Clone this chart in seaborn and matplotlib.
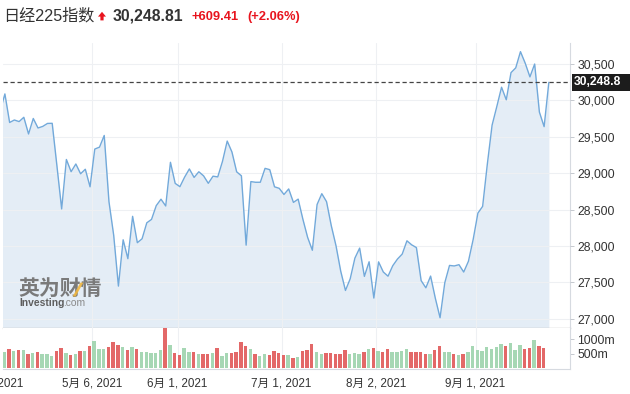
import numpy as np
import pandas as pd
import matplotlib
matplotlib.use("Agg")
import matplotlib.pyplot as plt
import matplotlib.ticker as mticker
from matplotlib import transforms
from matplotlib.patches import Polygon, Rectangle
import seaborn as sns

# ---------------- data ----------------
holidays = ['2021-04-29', '2021-05-03', '2021-05-04', '2021-05-05', '2021-07-22',
            '2021-07-23', '2021-08-09', '2021-09-20', '2021-09-23']
trade_dates = [d for d in pd.bdate_range('2021-04-01', '2021-09-24')
               if d.strftime('%Y-%m-%d') not in holidays]

# closes from 2021-04-02 to 2021-09-24
close = [
    29854.00, 30089.25, 29696.63, 29730.79, 29708.98, 29768.06, 29538.73, 29751.61,
    29620.99, 29642.69, 29683.37, 29685.37, 29100.38, 28508.55, 29188.17, 29020.63,
    29126.23, 28991.89, 29053.97, 28812.63,
    29331.37, 29357.82, 29518.34, 28608.59, 28147.51, 27448.01, 28084.47, 27824.83,
    28406.84, 28044.45, 28098.25, 28317.83, 28364.61, 28553.98, 28642.19, 28549.01,
    29149.41, 28860.08,
    28814.34, 28946.14, 29058.11, 28941.52, 29019.24, 28963.56, 28860.80, 28958.56,
    28948.73, 29161.80, 29441.30, 29291.01, 29018.33, 28964.08, 28010.93, 28884.13,
    28874.89, 28875.23, 29066.18, 29048.02, 28812.61, 28791.53,
    28707.04, 28783.28, 28598.19, 28643.21, 28366.95, 28118.03, 27940.42, 28569.02,
    28718.24, 28608.49, 28279.09, 28003.08, 27652.74, 27388.16, 27548.00, 27833.29,
    27970.22, 27581.66, 27782.42, 27283.59,
    27781.02, 27641.83, 27584.08, 27728.12, 27820.04, 27888.15, 28070.51, 28015.02,
    27977.15, 27523.19, 27424.47, 27585.91, 27281.17, 27013.25, 27494.24, 27732.10,
    27724.80, 27742.29, 27641.14, 27789.29, 28089.54,
    28451.02, 28543.51, 29128.11, 29659.89, 29916.14, 30181.21, 30008.19, 30381.84,
    30447.37, 30670.10, 30511.71, 30323.34, 30500.05, 29839.71, 29639.40, 30248.81,
]

# volume (millions) from 2021-04-06 to 2021-09-24, R = red bar, G = green bar
vol_m = [
    549, 663, 594, 628, 628, 490, 513, 559, 490, 490,
    420, 594, 698, 513, 443, 490, 594, 594, 767, 941,
    663, 663, 733, 906, 802, 733, 628, 733, 663, 549,
    549, 524, 524, 618, 1382, 791, 513, 443, 687, 549,
    549, 478, 478, 478, 513, 687, 408, 513, 513, 549,
    897, 758, 652, 478, 408, 478, 443, 582, 513, 443,
    443, 340, 374, 582, 617, 830, 549, 478, 513, 513,
    478, 478, 617, 478, 513, 478, 549, 652, 687, 582,
    549, 652, 549, 549, 582, 652, 549, 549, 549, 478,
    478, 617, 758, 549, 549, 478, 443, 478, 549, 758,
    617, 582, 722, 652, 722, 826, 758, 862, 617, 791,
    652, 687, 965, 758, 687,
]
vol_dir = list(
    "GRGRGRGRGG" "GRRGRGRGRG" "GGRRRGRGRG" "GGGGRGRRGG" "RGRRGRGGRR"
    "RRGRGGRRRR" "GRGRRRGGRR" "RRRGGGRGRG" "RRGGGGRRRR" "GRRGGRGRGG"
    "GGGGGGRGGG" "RRGRR"
)

tick_dates = ['2021-04-01', '2021-05-06', '2021-06-01', '2021-07-01', '2021-08-02', '2021-09-01']
tick_labels = ['4月 1, 2021', '5月 6, 2021', '6月 1, 2021', '7月 1, 2021', '8月 2, 2021', '9月 1, 2021']
price_ticks = [27000, 27500, 28000, 28500, 29000, 29500, 30000, 30500]
vol_ticks = [500, 1000]
vol_tick_labels = ['500m', '1000m']

index_name = '日经225指数'
last_close = 30248.81
change = 609.41
change_pct = 2.06

# ---------------- style ----------------
sns.set_style("white")
plt.rcParams['font.family'] = ['Liberation Sans', 'Noto Sans CJK SC', 'DejaVu Sans']
LINE_C = '#72a9da'
FILL_C = '#e4edf6'
RED_C = '#e36868'
GREEN_C = '#a6d7b4'
TXT_C = '#333333'
UP_C = '#e8141e'

W, H, DPI = 630, 394, 100
fig = plt.figure(figsize=(W / DPI, H / DPI), dpi=DPI)
fig.patch.set_facecolor('white')

L, R = 3.3, 569.5
T1, B1, B2 = 43.0, 327.5, 368.5


def fx(px):
    return px / W


def fy(py):
    return 1 - py / H


ax = fig.add_axes([fx(L), fy(B1), (R - L) / W, (B1 - T1) / H])
axv = fig.add_axes([fx(L), fy(B2), (R - L) / W, (B2 - B1) / H])

# position of trading day k (Apr 5 -> 0)
date_pos = {d.strftime('%Y-%m-%d'): k - 2 for k, d in enumerate(trade_dates)}
x_line = np.array([date_pos[d.strftime('%Y-%m-%d')] for d in trade_dates[1:]], dtype=float)
x_vol = np.array([date_pos[d.strftime('%Y-%m-%d')] for d in trade_dates[3:]], dtype=float) - 1.12
tick_pos = [date_pos[d] - 0.5 for d in tick_dates]

X0, DX = 4.9, 4.73
xlim = ((L - X0) / DX, (R - X0) / DX)

# ---------------- price panel ----------------
ax.fill_between(x_line, close, 26000, color=FILL_C, lw=0, zorder=1)
sns.lineplot(x=x_line, y=close, ax=ax, color=LINE_C, linewidth=1.0, estimator=None,
             sort=False, zorder=4)
ax.axhline(last_close, color='#444444', lw=0.9, dashes=(3.4, 2.2), zorder=6)

ax.set_xlim(*xlim)
ax.set_ylim(26879, 30789)
ax.set_yticks(price_ticks)
ax.yaxis.set_major_formatter(mticker.FuncFormatter(lambda v, p: f'{v:,.0f}'))
ax.yaxis.tick_right()
ax.set_xticks(tick_pos[1:])
ax.tick_params(axis='x', length=0, labelbottom=False)
ax.tick_params(axis='y', length=2.9, width=0.7, color='#c5c9cf', pad=2.8,
               labelsize=8.8, labelcolor=TXT_C)
ax.grid(True, axis='both', color='#eef0f3', lw=0.8)
ax.set_axisbelow(False)
for g in ax.get_xgridlines() + ax.get_ygridlines():
    g.set_zorder(2)
for s in ['left', 'top']:
    ax.spines[s].set_visible(False)
ax.spines['right'].set_color('#d6dae0')
ax.spines['right'].set_linewidth(0.8)
ax.spines['bottom'].set_color('#c2c2c2')
ax.spines['bottom'].set_linewidth(1.0)
ax.set_xlabel('')
ax.set_ylabel('')

# last price label (box runs to the right edge, text truncated as in the source)
lbl_trans = transforms.blended_transform_factory(fig.transFigure, ax.transData)
fig.add_artist(Rectangle((fx(571.7), fy(90.6)), fx(630) - fx(571.7), fy(73.8) - fy(90.6),
                         transform=fig.transFigure, fc='#1c1c1c', ec='none', zorder=9))
fig.text(fx(573.6), last_close, f'{last_close:,.2f}'[:-1], transform=lbl_trans,
         ha='left', va='center', fontsize=8.7, fontweight='bold', color='white',
         zorder=10)

# ---------------- volume panel ----------------
vdf = pd.DataFrame({'x': x_vol, 'vol': vol_m, 'dir': vol_dir})
sns.barplot(data=vdf, x='x', y='vol', hue='dir', palette={'R': RED_C, 'G': GREEN_C},
            native_scale=True, dodge=False, width=0.72, saturation=1, errorbar=None,
            legend=False, ax=axv, zorder=3, linewidth=0, edgecolor='none')
axv.set_xlim(*xlim)
axv.set_ylim(-14, 1410)
axv.set_yticks(vol_ticks)
axv.set_yticklabels(vol_tick_labels)
axv.yaxis.tick_right()
axv.set_xticks(tick_pos[1:])
axv.set_xticklabels(tick_labels[1:])
XT_LEN, XT_PAD, XT_SIZE = 3.3, 3.0, 8.4
axv.tick_params(axis='x', length=XT_LEN, width=0.7, color='#d4d8de', pad=XT_PAD,
                labelsize=XT_SIZE, labelcolor=TXT_C)
axv.tick_params(axis='y', length=2.9, width=0.7, color='#c5c9cf', pad=2.8,
                labelsize=8.8, labelcolor=TXT_C)
axv.grid(True, axis='x', color='#eef0f3', lw=0.8)
axv.set_axisbelow(True)
for s in ['left', 'top']:
    axv.spines[s].set_visible(False)
for s in ['right', 'bottom']:
    axv.spines[s].set_color('#d6dae0')
    axv.spines[s].set_linewidth(0.8)
axv.set_xlabel('')
axv.set_ylabel('')

# first (partly hidden) date label, left of the plot area
trans = axv.get_xaxis_transform() + transforms.ScaledTranslation(
    0, -(XT_LEN + XT_PAD) / 72, fig.dpi_scale_trans)
axv.text(tick_pos[0], 0, tick_labels[0], transform=trans, ha='center', va='top',
         fontsize=XT_SIZE, color=TXT_C, clip_on=False)

# ---------------- header ----------------
BASE = fy(20.3)
fig.text(fx(3), BASE, index_name, fontsize=11.6, color=TXT_C, va='baseline', ha='left')
arrow = [(98.0, 16.6), (102.0, 11.8), (106.0, 16.6), (103.6, 16.6), (103.6, 20.4),
         (100.4, 20.4), (100.4, 16.6)]
fig.add_artist(Polygon([(fx(a), fy(b)) for a, b in arrow], closed=True,
                       transform=fig.transFigure, fc=UP_C, ec='none'))
fig.text(fx(113), BASE, f'{last_close:,.2f}', fontsize=11.3, fontweight='bold',
         color=TXT_C, va='baseline', ha='left')
fig.text(fx(191), BASE, f'+{change:,.2f}', fontsize=9.3, fontweight='bold',
         color=UP_C, va='baseline', ha='left')
fig.text(fx(247), BASE, f'(+{change_pct:.2f}%)', fontsize=9.3, fontweight='bold',
         color=UP_C, va='baseline', ha='left')

# ---------------- watermark ----------------
fig.text(fx(18.5), fy(294.5), '英为财情', fontsize=15, fontweight='bold',
         color='#7a7a7a', va='baseline', ha='left', family=['Noto Sans CJK SC'])
accent = [(72.6, 296.5), (80.4, 282.6), (83.4, 282.6), (75.6, 296.5)]
fig.add_artist(Polygon([(fx(a), fy(b)) for a, b in accent], closed=True,
                       transform=fig.transFigure, fc='#f2b840', ec='none', alpha=0.9,
                       zorder=5))
fig.text(fx(19), fy(305.5), 'Investing', fontsize=7.4, fontweight='bold',
         color='#5e5e5e', va='baseline', ha='left')
fig.text(fx(63.3), fy(305.5), '.com', fontsize=7.4, color='#8a8a8a',
         va='baseline', ha='left')

fig.savefig('out.png', dpi=DPI, facecolor='white')
